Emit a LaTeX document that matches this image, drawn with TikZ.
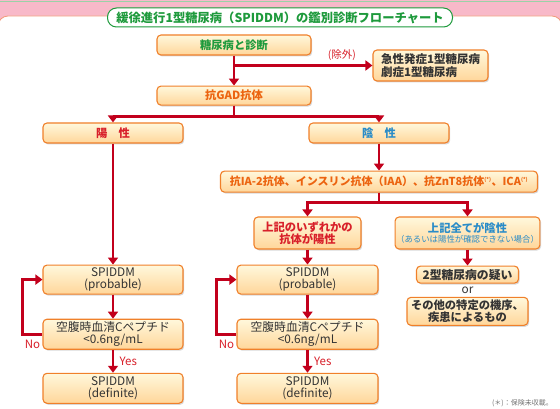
\documentclass[tikz,border=0pt]{standalone}
\usepackage{fontspec}
\setmainfont{Noto Sans CJK JP}
\usetikzlibrary{positioning, arrows.meta, shadows}

\definecolor{arrred}{HTML}{C2001C}
\definecolor{boxline}{HTML}{F0802A}
\definecolor{boxtop}{HTML}{FFF8DC}
\definecolor{boxbot}{HTML}{FFD69A}
\definecolor{tgreen}{HTML}{1E9A3C}
\definecolor{torange}{HTML}{EC6410}
\definecolor{tred}{HTML}{D8202A}
\definecolor{tblue}{HTML}{2A8CC8}
\definecolor{tdark}{HTML}{333333}
\definecolor{bandpink}{HTML}{F8B9C9}
\definecolor{panelline}{HTML}{F29A7A}

\begin{document}
\begin{tikzpicture}[x=1pt, y=-1pt, >={Triangle[width=10pt, length=7pt]},
    box/.style={draw=boxline, line width=1.1pt, rounded corners=4pt, top color=boxtop,
      bottom color=boxbot, drop shadow={shadow xshift=1.2pt, shadow yshift=-1.5pt, opacity=0.3},
      align=center, inner sep=1pt, text=tdark, font=\fontsize{11.3}{12.5}\selectfont\bfseries},
    plain/.style={font=\fontsize{11.8}{12.3}\selectfont\mdseries},
    title/.style={draw=tgreen, line width=1pt, fill=white, rounded corners=9pt, text=tgreen,
      minimum width=345pt, minimum height=19pt, inner sep=0pt, font=\fontsize{12.3}{14}\selectfont\bfseries},
    arr/.style={->, draw=arrred, line width=2.6pt}]

  \useasboundingbox (0,0) rectangle (560,409);
  % background band and panel
  \fill[white] (0,0) rectangle (560,409);
  \fill[bandpink] (0,0) rectangle (560,24);
  \draw[tgreen!45, line width=0.8pt] (0,1) -- (560,1);
  \draw[panelline, fill=white, line width=0.8pt, rounded corners=10pt] (-2,16) rectangle (562,430);

  \node[title] (head) at (280,17.5) {緩徐進行1型糖尿病（SPIDDM）の鑑別診断フローチャート};

  \node[box, minimum width=154pt, minimum height=20pt, text=tgreen] (diag) at (234,45) {糖尿病と診断};
  \node[box, minimum width=115pt, minimum height=31pt, align=left, font=\fontsize{11.5}{12.5}\selectfont\bfseries] (excl) at (430.5,65.5) {急性発症1型糖尿病\\劇症1型糖尿病};
  \node[box, minimum width=154pt, minimum height=19pt, text=torange, below=30pt of diag] (gad) {抗GAD抗体};

  \node[box, minimum width=140pt, minimum height=20pt, text=tred] (pos) at (113,133) {陽　性};
  \node[box, minimum width=140pt, minimum height=20pt, text=tblue] (neg) at (379,133) {陰　性};
  \node[box, minimum width=317pt, minimum height=21pt, text=torange, font=\fontsize{11}{12}\selectfont\bfseries, below=27pt of neg] (ab)
    {抗IA-2抗体、インスリン抗体（IAA）、抗ZnT8抗体\textsuperscript{\tiny(*)}、ICA\textsuperscript{\tiny(*)}};

  \node[box, minimum width=107pt, minimum height=32pt, text=tred] (anypos) at (307.5,233) {上記のいずれかの\\抗体が陽性};
  \node[box, minimum width=143pt, minimum height=32pt, text=tblue] (allneg) at (467.5,233)
    {上記全てが陰性\\[-2pt]{\fontsize{8.4}{9.5}\selectfont\mdseries（あるいは陽性が確認できない場合）}};

  % left column
  \node[box, plain, minimum width=140pt, minimum height=29pt, below=121pt of pos] (prob1) {SPIDDM\\(probable)};
  \node[box, plain, minimum width=140pt, minimum height=30pt, below=24pt of prob1] (cpep1) {空腹時血清Cペプチド\\\textless0.6ng/mL};
  \node[box, plain, minimum width=140pt, minimum height=30pt, below=23pt of cpep1] (def1) {SPIDDM\\(definite)};

  % middle column
  \node[box, plain, minimum width=141pt, minimum height=29pt, below=15pt of anypos] (prob2) {SPIDDM\\(probable)};
  \node[box, plain, minimum width=141pt, minimum height=30pt, below=24pt of prob2] (cpep2) {空腹時血清Cペプチド\\\textless0.6ng/mL};
  \node[box, plain, minimum width=141pt, minimum height=30pt, below=23pt of cpep2] (def2) {SPIDDM\\(definite)};

  % right column
  \node[box, minimum width=102pt, minimum height=17pt, font=\fontsize{11.8}{12.5}\selectfont\bfseries, below=16pt of allneg] (t2) {2型糖尿病の疑い};
  \node[plain, text=tdark, inner sep=0pt, below=3pt of t2] (orw) {or};
  \node[box, minimum width=121pt, minimum height=28pt, below=3pt of orw] (other) {その他の特定の機序、\\疾患によるもの};

  \node[anchor=east, text=black!55, font=\fontsize{7}{8}\selectfont, inner sep=0pt] (note) at (553,403) {(＊)：保険未収載。};

  % connectors
  \draw[arr] (diag.south) -- (gad.north);
  \draw[arr] (diag.south |- excl.west) -- node[above, pos=0.78, text=tred, font=\fontsize{10.5}{11}\selectfont] (exlab) {(除外)} (excl.west);
  \draw[arr] (gad.south) -- ++(0,11) -| (pos.north);
  \draw[arr] (gad.south) -- ++(0,11) -| (neg.north);
  \draw[arr] (neg.south) -- (ab.north);
  \draw[arr] (ab.south) -- ++(0,10) -| (anypos.north);
  \draw[arr] (ab.south) -- ++(0,10) -| (allneg.north);
  \draw[arr] (pos.south) -- (prob1.north);
  \draw[arr] (anypos.south) -- (prob2.north);
  \draw[arr] (allneg.south) -- (t2.north);

  \foreach \c in {1,2} {
    \draw[arr] (prob\c.south) -- (cpep\c.north);
    \draw[arr] (cpep\c.south) -- node[right=2pt, text=tred, font=\fontsize{11.5}{12}\selectfont] {Yes} (def\c.north);
    \draw[arr] (cpep\c.west) -- node[below=1pt, pos=0.5, text=tred, font=\fontsize{11.5}{12}\selectfont] {No} ++(-20,0) |- (prob\c.west);
  }

\end{tikzpicture}
\end{document}
